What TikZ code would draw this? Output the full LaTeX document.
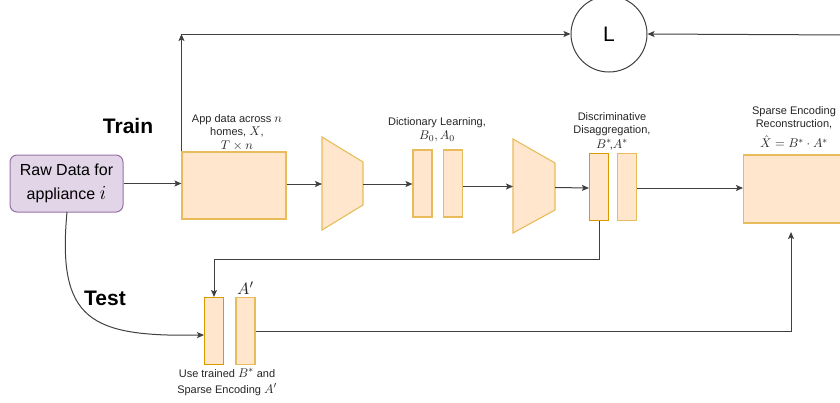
\documentclass[tikz,border=0pt]{standalone}
\usepackage{graphicx}
\usepackage{fontspec}
\setmainfont{Liberation Sans}
\usetikzlibrary{arrows.meta}
\definecolor{boxfill}{HTML}{FFE6CC}
\definecolor{darkedge}{HTML}{D79B00}
\definecolor{lightedge}{HTML}{E8BC5A}
\definecolor{rawfill}{HTML}{E1D5E7}
\definecolor{rawedge}{HTML}{9673A6}
\definecolor{linec}{HTML}{404040}
\newcommand{\mx}[1]{\scalebox{1.15}{$#1$}}
\begin{document}
\begin{tikzpicture}[x=1pt,y=-1pt,
  box/.style={draw=lightedge, fill=boxfill, line width=1.1pt, inner sep=0pt},
  darkbox/.style={draw=darkedge, fill=boxfill, line width=1.1pt, inner sep=0pt},
  bar/.style={minimum width=19pt, minimum height=67pt},
  conn/.style={draw=linec, line width=1pt, -{Stealth[length=7pt,width=6pt,inset=1.5pt]}},
  lbl/.style={align=center, font=\fontsize{11}{13}\selectfont, inner sep=0pt, text=black!85},
  big/.style={font=\fontsize{21}{24}\selectfont\bfseries, inner sep=0pt}]
\clip (0,0) rectangle (840,402);
\fill[white] (0,0) rectangle (840,402);

% nodes
\node[draw=rawedge, fill=rawfill, line width=1pt, rounded corners=7pt,
      minimum width=113pt, minimum height=57pt, align=center, inner sep=0pt,
      font=\fontsize{16}{24}\selectfont] (raw) at (66.5,183.5) {Raw Data for\\appliance \scalebox{1.15}{$i$}};
\node[box, minimum width=104pt, minimum height=67pt] (app) at (234,185.5) {};
\node[box, bar] (b1) at (422.5,183.5) {};
\node[box, bar] (b2) at (453,183.5) {};
\node[darkbox, bar] (b3) at (599,187) {};
\node[box, bar] (b4) at (627,187) {};
\node[box, minimum width=130pt, minimum height=68pt, anchor=west] (sparse) at (743,189) {};
\node[darkbox, bar] (b5) at (214,331) {};
\node[box, bar] (b6) at (245.5,331) {};
\node[draw=linec, line width=1pt, circle, minimum size=76pt, inner sep=0pt,
      font=\fontsize{21}{24}\selectfont] (L) at (609,34) {L};

% trapezoids
\draw[box] (322,137) -- (363,162) -- (363,205) -- (322,230) -- cycle;
\draw[box] (513,139) -- (555,163) -- (555,210) -- (513,233) -- cycle;
\coordinate (t1w) at (322,184);
\coordinate (t1e) at (363,184);
\coordinate (t2w) at (513,186.5);
\coordinate (t2e) at (555,187.5);

% labels
\node[big] (train) at (128,126) {Train};
\node[big] (test) at (105,298) {Test};
\node[lbl] (applbl) at (237,132.5) {App data across \mx{n}\\homes, \mx{X},\\[1pt]\mx{T\times n}};
\node[lbl] (dictlbl) at (437,130) {Dictionary Learning,\\[1pt]\mx{B_0, A_0}};
\node[lbl] (disclbl) at (612,131) {Discriminative\\Disaggregation,\\[2pt]\mx{B^*}\!,\mx{A^*}};
\node[lbl] (sparselbl) at (794,127) {Sparse Encoding\\Reconstruction,\\[6pt]\mx{\hat{X} = B^*\cdot A^*}};
\node[lbl] (aplbl) at (245.5,288) {\scalebox{1.5}{$A'$}};
\node[lbl] (uselbl) at (227,382) {Use trained \mx{B^*} and\\[3pt]Sparse Encoding \mx{A'}};

% coordinates for free ends
\coordinate (corner) at (app.north west |- L.west);
\coordinate (rin) at (850,35);
\coordinate (spin) at (791,232);
\coordinate (bot) at (791,331);
\coordinate (b3turn) at (599,259);
\coordinate (b5turn) at (214,259);
\coordinate (b5in) at (204,335);
\coordinate (rawout) at (67,212);

% connectors
\draw[conn] (raw.east) -- (raw.east -| app.west);
\draw[conn] (app.east |- t1w) -- (t1w);
\draw[conn] (t1e) -- (t1e -| b1.west);
\draw[conn] (b2.east |- t2w) -- (t2w);
\draw[conn] (t2e) -- (b3.west |- 0,188);
\draw[conn] (b4.east |- 0,188) -- (sparse.west |- 0,188);
\draw[conn] (app.north west) -- (corner);
\draw[conn] (corner) -- (L.west);
\draw[conn] (rin) -- (L.east);
\draw[conn] (b3.south) -- (b3turn) -- (b5turn) -- (b5.north);
\draw[conn] (rawout) .. controls (57,320) and (90,337) .. (b5in);
\draw[conn] (b6.east) -- (bot) -- (spin);
\end{tikzpicture}
\end{document}
